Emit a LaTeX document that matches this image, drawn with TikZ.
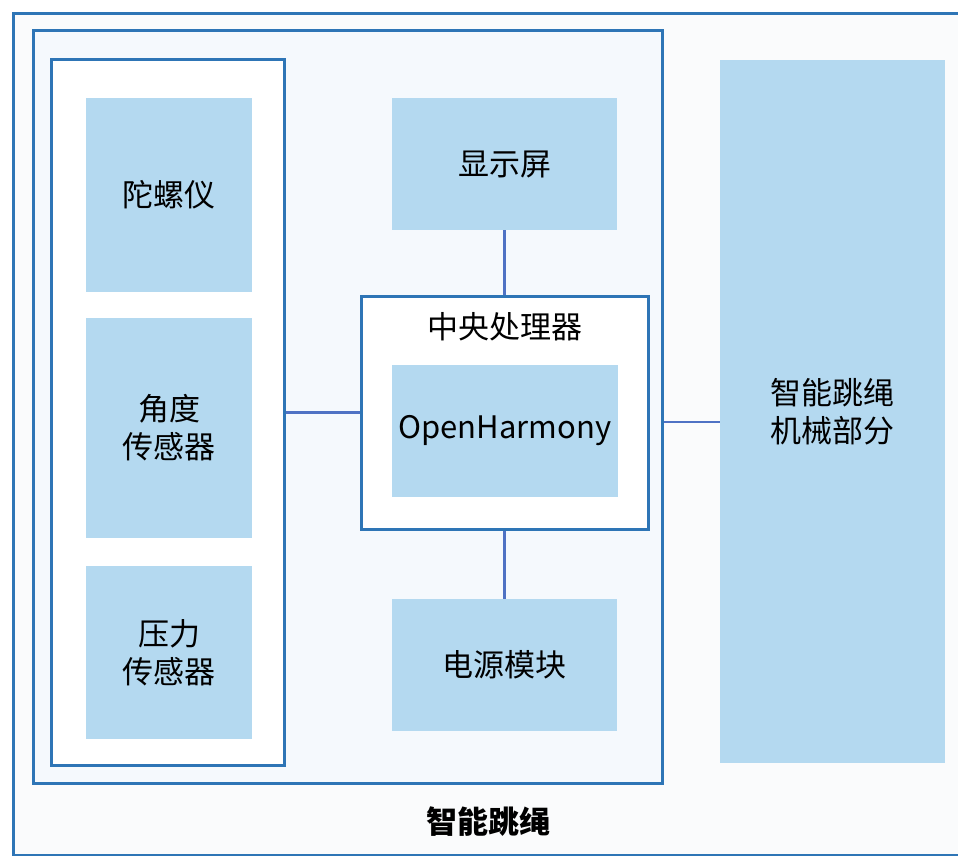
\documentclass[tikz,border=0pt]{standalone}
\usepackage{fontspec}
\setmainfont{Noto Sans CJK SC}
\usepackage{xcolor}
\usepackage{tikz}
\usetikzlibrary{positioning}
\definecolor{frameblue}{RGB}{46,117,182}
\definecolor{linkblue}{RGB}{79,114,196}
\definecolor{partblue}{RGB}{180,217,240}
\definecolor{paleback}{RGB}{250,251,252}
\definecolor{palebox}{RGB}{245,249,253}

\begin{document}
\begin{tikzpicture}[x=1pt, y=-1pt,
    every node/.style = {font=\fontsize{31}{38}\selectfont, align=center, inner sep=0pt},
    frame/.style      = {draw=frameblue, line width=3pt, fill=white},
    part/.style       = {fill=partblue},
    link/.style       = {draw=linkblue, line width=2.6pt}]
  \useasboundingbox (0,0) rectangle (958,856);
  % outer frame of the device, its right side runs off the page
  \node[frame, fill=paleback, minimum width=962pt, minimum height=841pt] (rope) at (494,434.5) {};
  \node[font=\fontsize{31}{38}\selectfont\bfseries] (ropetitle) at (488,822) {智能跳绳};
  \node[frame, fill=palebox, minimum width=629pt, minimum height=752pt] (cont) at (347.5,407) {};

  % sensors
  \node[frame, minimum width=233pt, minimum height=706pt] (sensors) at (167.5,412.5) {};
  \node[part, minimum width=166pt, minimum height=194pt] (gyro) at (169,195) {陀螺仪};
  \node[part, minimum width=166pt, minimum height=220pt] (angle) at (169,428) {角度\\传感器};
  \node[part, minimum width=166pt, minimum height=173pt] (press) at (169,652.5) {压力\\传感器};

  % processor, screen and power
  \node[part, minimum width=225pt, minimum height=132pt] (screen) at (504.5,164) {显示屏};
  \node[frame, minimum width=287pt, minimum height=233pt] (cpu) at (504.5,412.5) {};
  \node (cputitle) at (504.5,327) {中央处理器};
  \node[part, minimum width=226pt, minimum height=132pt] (oh) at (505,431) {OpenHarmony};
  \node[part, minimum width=225pt, minimum height=132pt] (power) at (504.5,665) {电源模块};

  % mechanical part
  \node[part, minimum width=225pt, minimum height=703pt] (mech) at (832.5,411.5) {智能跳绳\\机械部分};

  \draw[link] (sensors.east) -- (sensors.east -| cpu.west);
  \draw[link] (screen.south) -- (cpu.north);
  \draw[link] (cpu.south) -- (power.north);
  \draw[link] ([yshift=-15pt]cont.east) -- ([yshift=-15pt]cont.east -| mech.west);
\end{tikzpicture}
\end{document}
